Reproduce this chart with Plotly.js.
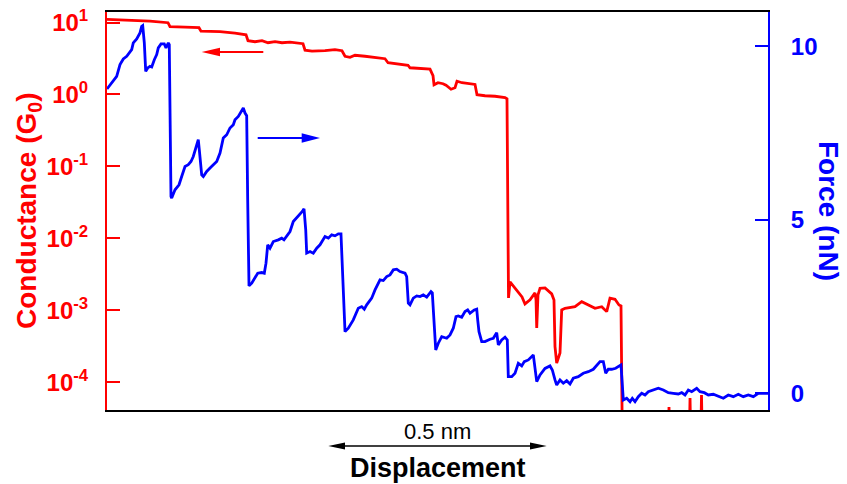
<!DOCTYPE html>
<html>
<head>
<meta charset="utf-8">
<script src="https://cdn.plot.ly/plotly-3.0.1.min.js"></script>
<style>html,body{margin:0;padding:0;background:#fff;}#chart{width:847px;height:484px;}</style>
</head>
<body>
<div id="chart"></div>
<script>
// ---- Conductance trace (displacement in nm, conductance as log10(G/G0)) ----
const condDisplacement = [0, 0.0525, 0.0982, 0.1393, 0.1438, 0.1781, 0.2100, 0.2146, 0.2580, 0.2922,
  0.3174, 0.3219, 0.3379, 0.3539, 0.3676, 0.3836, 0.3995, 0.4178, 0.4338, 0.4475,
  0.4521, 0.4680, 0.4977, 0.5205, 0.5365, 0.5434, 0.5548, 0.5662, 0.5890, 0.6119,
  0.6347, 0.6416, 0.6644, 0.6872, 0.6918, 0.7146, 0.7374, 0.7443, 0.7466, 0.7557,
  0.7671, 0.7740, 0.7854, 0.7945, 0.7991, 0.8105, 0.8288, 0.8402, 0.8447, 0.8630,
  0.8858, 0.9087, 0.9132, 0.9155, 0.9167, 0.9201, 0.9354, 0.9475, 0.9543, 0.9658,
  0.9772, 0.9795, 0.9811, 0.9840, 0.9886, 1.0000, 1.0153, 1.0205, 1.0228, 1.0267,
  1.0342, 1.0381, 1.0457, 1.0685, 1.0838, 1.0989, 1.1142, 1.1295, 1.1409, 1.1484,
  1.1598, 1.1689, 1.1735, 1.1769, 1.2808, 1.2831, 1.2854, 1.3288, 1.3311, 1.3333,
  1.3550, 1.3573, 1.3596, 1.5091];
const condLog10 = [1.043, 1.032, 1.018, 0.997, 0.942, 0.935, 0.928, 0.879, 0.872, 0.851,
  0.830, 0.747, 0.733, 0.747, 0.719, 0.733, 0.719, 0.726, 0.719, 0.705,
  0.615, 0.601, 0.608, 0.622, 0.608, 0.531, 0.517, 0.545, 0.531, 0.510,
  0.497, 0.441, 0.427, 0.406, 0.371, 0.364, 0.353, 0.260, 0.135, 0.163,
  0.149, 0.128, 0.072, 0.093, 0.184, 0.163, 0.149, 0.139, -0.004, -0.018,
  -0.025, -0.042, -0.060, -1.465, -2.828, -2.605, -2.730, -2.814, -2.911, -2.855,
  -2.758, -2.855, -3.245, -2.786, -2.693, -2.688, -2.772, -2.855, -3.505, -3.732,
  -3.593, -2.994, -2.971, -2.949, -2.879, -2.925, -2.971, -2.949, -3.018, -2.832,
  -2.846, -2.925, -2.939, -5, -5, -4.344, -5, -5, -4.218, -5,
  -5, -4.177, -5, -5];

// ---- Force trace (displacement in nm, force in nN) ----
const forceDisplacement = [0, 0.0107, 0.0221, 0.0297, 0.0372, 0.0450, 0.0502, 0.0564, 0.0600, 0.0678,
  0.0753, 0.0792, 0.0815, 0.0852, 0.0884, 0.0929, 0.0982, 0.1021, 0.1080, 0.1135,
  0.1171, 0.1233, 0.1308, 0.1347, 0.1400, 0.1422, 0.1461, 0.1477, 0.1553, 0.1644,
  0.1705, 0.1781, 0.1856, 0.1918, 0.1970, 0.2009, 0.2048, 0.2084, 0.2107, 0.2162,
  0.2199, 0.2276, 0.2352, 0.2427, 0.2505, 0.2580, 0.2655, 0.2733, 0.2808, 0.2884,
  0.2922, 0.2998, 0.3075, 0.3112, 0.3151, 0.3189, 0.3212, 0.3242, 0.3304, 0.3379,
  0.3441, 0.3532, 0.3591, 0.3630, 0.3669, 0.3721, 0.3797, 0.3911, 0.3989, 0.4041,
  0.4103, 0.4178, 0.4253, 0.4331, 0.4406, 0.4459, 0.4498, 0.4537, 0.4559, 0.4635,
  0.4710, 0.4788, 0.4863, 0.4938, 0.4977, 0.5053, 0.5130, 0.5205, 0.5281, 0.5342,
  0.5358, 0.5434, 0.5509, 0.5623, 0.5737, 0.5815, 0.5874, 0.5929, 0.6043, 0.6119,
  0.6233, 0.6308, 0.6386, 0.6461, 0.6537, 0.6614, 0.6689, 0.6804, 0.6842, 0.6879,
  0.6918, 0.6993, 0.7071, 0.7146, 0.7221, 0.7299, 0.7397, 0.7427, 0.7505, 0.7564,
  0.7642, 0.7756, 0.7831, 0.7906, 0.7968, 0.8021, 0.8098, 0.8174, 0.8235, 0.8288,
  0.8386, 0.8441, 0.8463, 0.8493, 0.8555, 0.8630, 0.8744, 0.8820, 0.8897, 0.8934,
  0.9011, 0.9087, 0.9139, 0.9162, 0.9240, 0.9315, 0.9390, 0.9468, 0.9527, 0.9619,
  0.9733, 0.9772, 0.9811, 0.9886, 1.0000, 1.0114, 1.0167, 1.0228, 1.0267, 1.0342,
  1.0418, 1.0495, 1.0571, 1.0646, 1.0760, 1.0874, 1.0989, 1.1103, 1.1180, 1.1256,
  1.1331, 1.1386, 1.1445, 1.1523, 1.1614, 1.1689, 1.1735, 1.1788, 1.1865, 1.1941,
  1.1993, 1.2055, 1.2130, 1.2208, 1.2283, 1.2358, 1.2473, 1.2587, 1.2701, 1.2815,
  1.2929, 1.3043, 1.3121, 1.3196, 1.3272, 1.3349, 1.3463, 1.3539, 1.3637, 1.3728,
  1.3842, 1.3957, 1.4071, 1.4185, 1.4299, 1.4413, 1.4527, 1.4642, 1.4756, 1.4870,
  1.5023, 1.5091];
const forceNN = [8.771, 8.944, 9.134, 9.472, 9.636, 9.711, 9.789, 9.905, 10.098, 10.213,
  10.387, 10.577, 10.597, 10.098, 9.279, 9.377, 9.423, 9.406, 9.616, 9.761,
  9.954, 10.069, 10.069, 9.954, 10.098, 10.049, 5.672, 5.626, 5.866, 6.010,
  6.249, 6.538, 6.587, 6.682, 6.826, 6.971, 7.115, 7.308, 7.020, 6.298,
  6.249, 6.394, 6.492, 6.587, 6.682, 6.924, 7.357, 7.452, 7.646, 7.741,
  7.885, 7.980, 8.125, 8.223, 8.078, 8.001, 5.577, 3.096, 3.174, 3.318,
  3.462, 3.480, 3.462, 3.751, 4.279, 4.183, 4.374, 4.423, 4.472, 4.423,
  4.518, 4.662, 4.951, 5.049, 5.144, 5.240, 5.317, 4.712, 4.039, 4.085,
  4.039, 4.183, 4.279, 4.423, 4.518, 4.472, 4.567, 4.538, 4.596, 4.596,
  4.134, 1.777, 1.875, 2.115, 2.452, 2.499, 2.424, 2.548, 2.741, 2.980,
  3.269, 3.249, 3.364, 3.413, 3.557, 3.578, 3.508, 3.462, 3.364, 2.597,
  2.548, 2.741, 2.807, 2.787, 2.836, 2.770, 2.931, 2.894, 1.249, 1.443,
  1.633, 1.587, 1.682, 1.875, 2.210, 2.230, 2.193, 2.354, 2.403, 2.308,
  2.403, 2.424, 2.115, 1.777, 1.489, 1.489, 1.558, 1.587, 1.748, 1.394,
  1.538, 1.616, 1.538, 0.479, 0.479, 0.577, 0.866, 0.788, 0.912, 0.961,
  1.105, 0.767, 0.335, 0.528, 0.716, 0.788, 0.672, 0.384, 0.239, 0.384,
  0.289, 0.364, 0.268, 0.433, 0.479, 0.577, 0.623, 0.692, 0.817, 0.912,
  0.912, 0.577, 0.692, 0.692, 0.721, 0.767, 0.817, -0.193, -0.144, -0.242,
  -0.144, -0.242, -0.098, 0, -0.049, 0.046, 0.095, 0.144, 0.095, 0.017,
  0, -0.020, 0.017, -0.049, 0.095, 0.046, 0.144, 0.046, 0.017, -0.049,
  -0.029, -0.098, -0.144, -0.049, -0.098, -0.029, -0.098, -0.049, -0.098, 0,
  0, 0];

// ---- Tick labels ----
const condTickVals = [10, 1, 0.1, 0.01, 0.001, 0.0001];
const condTickText = ['10<sup>1</sup>', '10<sup>0</sup>', '10<sup>-1</sup>', '10<sup>-2</sup>', '10<sup>-3</sup>', '10<sup>-4</sup>'];
const forceTickVals = [0, 5, 10];
const forceTickText = ['0', '5', '10'];

const conductance = condLog10.map(v => Math.pow(10, v));

const RED = '#ff0000', BLUE = '#0000ff';
const FONT = 'Liberation Sans, Arial, Helvetica, sans-serif';

// plot area: x 107..768, y 12..410 px
const L = 107, R = 768, T = 12, B = 410;
const X = px => (px - L) / (R - L);
const Y = py => (B - py) / (B - T);

const traces = [
  {x: condDisplacement, y: conductance, type: 'scatter', mode: 'lines', yaxis: 'y',
   line: {color: RED, width: 2.8}, hoverinfo: 'skip', showlegend: false},
  {x: forceDisplacement, y: forceNN, type: 'scatter', mode: 'lines', yaxis: 'y2',
   line: {color: BLUE, width: 2.8}, hoverinfo: 'skip', showlegend: false}
];

function tri(tipX, baseX, cy, half) {
  return 'M' + X(tipX) + ',' + Y(cy) + ' L' + X(baseX) + ',' + Y(cy - half) + ' L' + X(baseX) + ',' + Y(cy + half) + ' Z';
}

const shapes = [
  // red arrow (points left)
  {type: 'line', xref: 'paper', yref: 'paper', x0: X(218), x1: X(263.3), y0: Y(52), y1: Y(52), line: {color: RED, width: 2}},
  {type: 'path', xref: 'paper', yref: 'paper', path: tri(201.7, 220, 52, 4.3), fillcolor: RED, line: {width: 0}},
  // blue arrow (points right)
  {type: 'line', xref: 'paper', yref: 'paper', x0: X(257.7), x1: X(303), y0: Y(138), y1: Y(138), line: {color: BLUE, width: 2}},
  {type: 'path', xref: 'paper', yref: 'paper', path: tri(320, 301.7, 138, 4.7), fillcolor: BLUE, line: {width: 0}},
  // scale bar
  {type: 'line', xref: 'paper', yref: 'paper', x0: X(343), x1: X(532), y0: Y(446), y1: Y(446), line: {color: '#000', width: 1.3}},
  {type: 'path', xref: 'paper', yref: 'paper', path: tri(328.3, 345, 446, 3.4), fillcolor: '#000', line: {width: 0}},
  {type: 'path', xref: 'paper', yref: 'paper', path: tri(546.7, 530, 446, 3.4), fillcolor: '#000', line: {width: 0}}
];

const annotations = [
  {xref: 'paper', yref: 'paper', x: X(28), y: Y(211), text: 'Conductance (G<sub>0</sub>)', textangle: -90,
   showarrow: false, xanchor: 'center', yanchor: 'middle', font: {family: FONT, size: 28, color: RED, weight: 'bold'}},
  {xref: 'paper', yref: 'paper', x: X(829), y: Y(211), text: 'Force (nN)', textangle: 90,
   showarrow: false, xanchor: 'center', yanchor: 'middle', font: {family: FONT, size: 28, color: BLUE, weight: 'bold'}},
  {xref: 'paper', yref: 'paper', x: X(437), y: Y(431), text: '0.5 nm',
   showarrow: false, xanchor: 'center', yanchor: 'middle', font: {family: FONT, size: 22, color: '#000'}},
  {xref: 'paper', yref: 'paper', x: X(437.5), y: Y(483.5), text: 'Displacement', borderpad: 0,
   showarrow: false, xanchor: 'center', yanchor: 'bottom', font: {family: FONT, size: 27, color: '#000', weight: 'bold'}}
];

const layout = {
  width: 847, height: 484,
  margin: {l: L, r: 847 - R, t: T, b: 484 - B, pad: 0},
  paper_bgcolor: '#fff', plot_bgcolor: '#fff',
  showlegend: false,
  xaxis: {range: [0, 1.5091], showline: true, linecolor: '#000', linewidth: 2, mirror: true,
          showticklabels: false, ticks: '', showgrid: false, zeroline: false, fixedrange: true},
  yaxis: {type: 'log', range: [-4.385, 1.146], tickvals: condTickVals, ticktext: condTickText,
          ticks: 'inside', ticklen: 13, tickwidth: 2, tickcolor: RED,
          showline: true, linecolor: RED, linewidth: 2, showgrid: false, zeroline: false,
          ticklabelstandoff: 12,
          tickfont: {family: FONT, size: 24, color: RED, weight: 'bold'}},
  yaxis2: {overlaying: 'y', side: 'right', range: [-0.482, 10.99], tickvals: forceTickVals, ticktext: forceTickText,
           ticks: 'inside', ticklen: 13, tickwidth: 2, tickcolor: BLUE,
           showline: true, linecolor: BLUE, linewidth: 2, showgrid: false, zeroline: false,
           ticklabelstandoff: 16,
           tickfont: {family: FONT, size: 24, color: BLUE, weight: 'bold'}},
  shapes: shapes,
  annotations: annotations
};

Plotly.newPlot('chart', traces, layout, {staticPlot: true, displayModeBar: false});
</script>
</body>
</html>
